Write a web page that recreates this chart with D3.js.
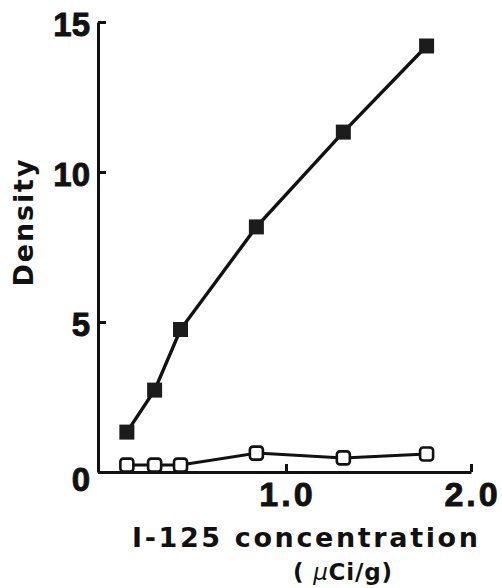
<!DOCTYPE html>
<html>
<head>
<meta charset="utf-8">
<script src="https://cdn.jsdelivr.net/npm/d3@7"></script>
<style>
  html, body { margin: 0; padding: 0; background: #fff; }
  svg { display: block; }
  text { font-family: "Liberation Sans", Arial, Helvetica, sans-serif; font-weight: bold; fill: #111; }
  .title { font-family: "DejaVu Sans", "Liberation Sans", sans-serif; }
</style>
</head>
<body>
<svg id="chart" width="502" height="588"></svg>
<script>
// Data
const concentration = [0.14, 0.29, 0.43, 0.84, 1.31, 1.76];
const densityFilled = [1.33, 2.73, 4.75, 8.17, 11.33, 14.2];
const densityOpen   = [0.23, 0.23, 0.23, 0.63, 0.47, 0.60];
const yTicks = [0, 5, 10, 15];
const xTicks = [1.0, 2.0];
const yTickLabels = ["0", "5", "10", "15"];
const xTickLabels = ["1.0", "2.0"];

const svg = d3.select("#chart");
const ink = "#111";

const x = d3.scaleLinear().domain([-0.016, 2.0]).range([98, 471]);
const y = d3.scaleLinear().domain([0, 15]).range([472, 22]);

// Y axis
const yAxis = svg.append("g")
  .attr("transform", `translate(${x.range()[0]},0)`)
  .call(d3.axisLeft(y).tickValues(yTicks).tickSizeInner(-8).tickSizeOuter(0)
        .tickFormat((d, i) => yTickLabels[i]).tickPadding(8));
yAxis.select(".domain").attr("stroke", ink).attr("stroke-width", 3);
yAxis.selectAll(".tick line").attr("stroke", ink).attr("stroke-width", 3);
yAxis.selectAll(".tick text")
  .attr("font-size", 33).attr("fill", ink)
  .attr("stroke", ink).attr("stroke-width", 0.9)
  .attr("dy", (d) => d === 0 ? 18 : 13)
  .style("font-family", "'Liberation Sans', Arial, sans-serif").style("font-weight", "bold");

// X axis
const xAxis = svg.append("g")
  .attr("transform", `translate(0,${y(0)})`)
  .call(d3.axisBottom(x).tickValues(xTicks).tickSizeInner(-8).tickSizeOuter(0)
        .tickFormat((d, i) => xTickLabels[i]).tickPadding(10));
xAxis.select(".domain").attr("stroke", ink).attr("stroke-width", 3);
xAxis.selectAll(".tick line").attr("stroke", ink).attr("stroke-width", 3);
xAxis.selectAll(".tick text")
  .attr("font-size", 34).attr("fill", ink)
  .attr("stroke", ink).attr("stroke-width", 0.9)
  .attr("dy", "0.72em").attr("dx", 1)
  .attr("letter-spacing", 3)
  .style("font-family", "'Liberation Sans', Arial, sans-serif").style("font-weight", "bold");

// Lines
const line = d3.line().x((d) => x(d[0])).y((d) => y(d[1]));
const filledPts = concentration.map((c, i) => [c, densityFilled[i]]);
const openPts = concentration.map((c, i) => [c, densityOpen[i]]);

svg.append("path").datum(filledPts).attr("d", line)
  .attr("fill", "none").attr("stroke", ink).attr("stroke-width", 3.4);
svg.append("path").datum(openPts).attr("d", line)
  .attr("fill", "none").attr("stroke", ink).attr("stroke-width", 3);

// Filled squares
svg.selectAll(".filled").data(filledPts).enter().append("rect")
  .attr("class", "filled")
  .attr("x", (d) => x(d[0]) - 7.5).attr("y", (d) => y(d[1]) - 7.5)
  .attr("width", 15).attr("height", 15)
  .attr("fill", "#1c1c1c");

// Open squares
svg.selectAll(".open").data(openPts).enter().append("rect")
  .attr("class", "open")
  .attr("x", (d) => x(d[0]) - 6.5).attr("y", (d) => y(d[1]) - 6.5)
  .attr("width", 13).attr("height", 13).attr("rx", 3)
  .attr("fill", "#fff").attr("stroke", ink).attr("stroke-width", 2.6);

// Axis titles
svg.append("text").attr("class", "title")
  .attr("transform", "translate(33,223) rotate(-90)")
  .attr("text-anchor", "middle")
  .attr("font-size", 27)
  .attr("textLength", 127).attr("lengthAdjust", "spacing")
  .text("Density");

svg.append("text").attr("class", "title")
  .attr("x", 132).attr("y", 547)
  .attr("font-size", 27)
  .attr("textLength", 346).attr("lengthAdjust", "spacing")
  .text("I-125 concentration");

const unit = svg.append("text").attr("class", "title")
  .attr("x", 293).attr("y", 580)
  .attr("font-size", 23)
  .attr("textLength", 99).attr("lengthAdjust", "spacing");
unit.append("tspan").text("( ");
unit.append("tspan").attr("font-style", "italic").attr("font-weight", "normal").text("μ");
unit.append("tspan").text("Ci/g)");
</script>
</body>
</html>
